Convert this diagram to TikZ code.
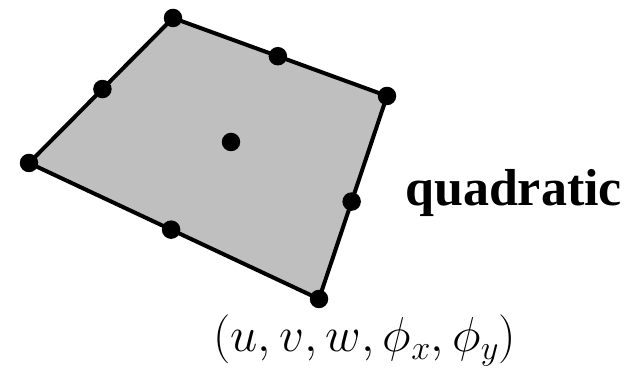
\RequirePackage{fix-cm}
\documentclass[tikz,border=0pt]{standalone}
\usepackage{fontspec}
\setmainfont{Liberation Serif}
\usetikzlibrary{calc}

\begin{document}
\begin{tikzpicture}[x=1pt,y=1pt]
\tikzset{knot/.style={circle,fill=black,inner sep=0pt,minimum size=18.5pt}}
\useasboundingbox (0,0) rectangle (641,371);
\coordinate (p1) at (29,208);
\coordinate (p2) at (173,353);
\coordinate (p3) at (387,275);
\coordinate (p4) at (319,72);
\draw[line width=4pt,line join=round,fill=gray!50](p1)--(p2)--(p3)--(p4)--cycle;
\node[knot] (n1) at (p1) {};
\node[knot] (n2) at (p2) {};
\node[knot] (n3) at (p3) {};
\node[knot] (n4) at (p4) {};
\node[knot] (m12) at ($(p1)!0.51!(p2)$) {};
\node[knot] (m23) at ($(p2)!0.49!(p3)$) {};
\node[knot] (m34) at ($(p3)!0.52!(p4)$) {};
\node[knot] (m41) at ($(p4)!0.51!(p1)$) {};
\node[knot] (c) at (231,229) {};
\node[font=\fontsize{52}{62}\selectfont\bfseries,anchor=base west,inner sep=0pt] (lbl) at (405,165) {quadratic};
\node[font=\fontsize{49}{58}\selectfont,anchor=base west,inner sep=0pt] (dof) at (213,19) {$(u,v,w,\phi_x,\phi_y)$};
\end{tikzpicture}
\end{document}
